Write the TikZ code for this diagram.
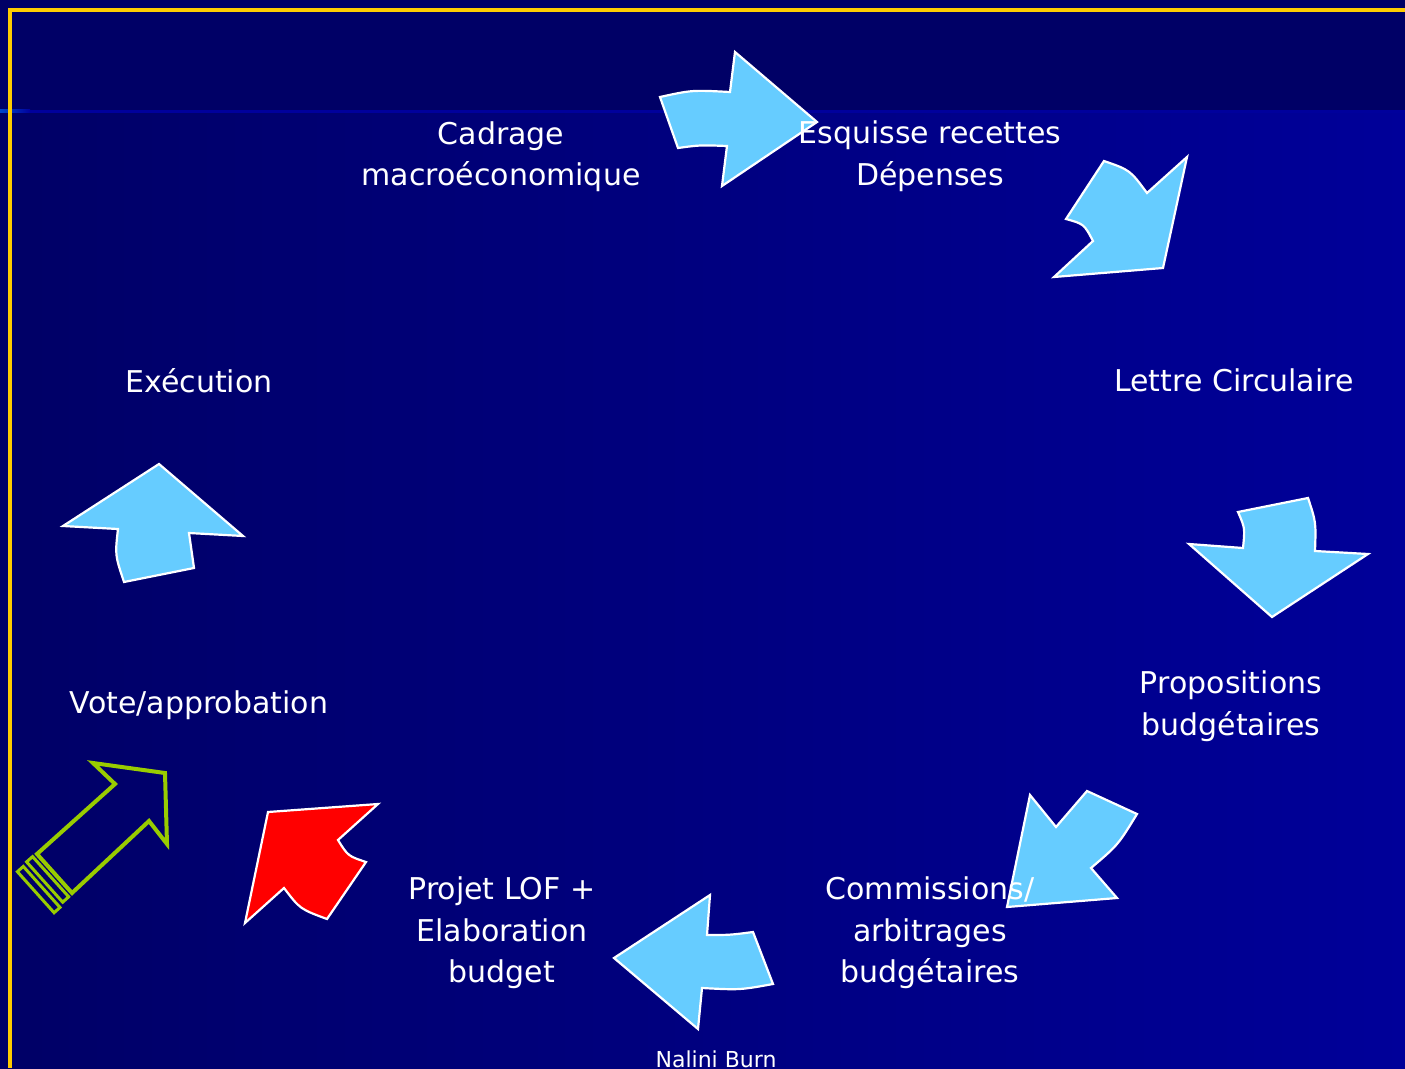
\documentclass[tikz,border=0pt]{standalone}
\usepackage{fontspec}
\setmainfont{DejaVu Sans}
\definecolor{bgdark}{HTML}{000066}
\definecolor{bgright}{HTML}{000099}
\definecolor{bandline}{HTML}{00009C}
\definecolor{bandglow}{HTML}{0046CC}
\definecolor{arrowblue}{HTML}{66CCFF}
\definecolor{gold}{HTML}{FFCC00}
\definecolor{lime}{HTML}{99CC00}
\begin{document}
\begin{tikzpicture}[x=1pt,y=-1pt,
  lbl/.style={text=white, align=center, inner sep=0pt, font=\fontsize{30}{41.5}\selectfont},
  blu/.style={fill=arrowblue, draw=white, line width=2.2pt, line join=miter},
  redarrow/.style={fill=red, draw=white, line width=2.2pt, line join=miter},
  outline/.style={draw=lime, line width=4pt, line join=miter},
  stripe/.style={draw=lime, line width=3pt, line join=miter},
  frame/.style={draw=gold, line width=4pt}]
\clip (0,0) rectangle (1405,1068);
% background
\fill[bgdark] (0,0) rectangle (1405,1068);
\shade[left color=bgdark, right color=bgright] (0,112) rectangle (1405,1068);
\draw[bandline, line width=3pt] (0,111) -- (1405,111);
\shade[left color=bandglow, right color=bandline] (0,109.5) rectangle (30,112.5);
% frame
\draw[frame] (8,10) -- (1405,10);
\draw[frame] (10,8) -- (10,1068);

% blue arrows
\path[blu] (660,97) .. controls (692,90) .. (730,92) -- (735,52) -- (817,122) -- (722,186) -- (727,146) .. controls (700,145) .. (678,148) -- cycle;
\path[blu] (1054,277) -- (1093,241) .. controls (1084,224) .. (1066,219) -- (1104,161) .. controls (1130,170) .. (1147,193) -- (1187,157) -- (1163,268) -- cycle;
\path[blu] (1238,512) -- (1308,498) .. controls (1316,522) .. (1315,551) -- (1368,554) -- (1272,617) -- (1189,544) -- (1243,548) .. controls (1245,528) .. (1238,512) -- cycle;
\path[blu] (1030,795) -- (1056,827) -- (1087,791) -- (1137,814) .. controls (1118,845) .. (1091,868) -- (1117,898) -- (1007,907) -- cycle;
\path[blu] (710,895) -- (707,935) .. controls (730,935) .. (753,932) -- (773,984) .. controls (740,990) .. (702,988) -- (698,1029) -- (614,958) -- cycle;
\path[blu] (63,526) -- (159,464) -- (243,536) -- (189,533) -- (194,568) -- (124,582) .. controls (115,555) .. (118,529) -- cycle;

% red arrow
\path[redarrow] (268,812) -- (378,804) -- (338,840) .. controls (348,856) .. (366,862) -- (327,919) .. controls (300,909) .. (284,888) -- (245,923) -- cycle;

% green outlined arrow
\path[outline] (93,763) -- (165,773) -- (167,844) -- (149,821) -- (72,893) -- (37,854) -- (115,784) -- cycle;
\path[stripe] (32.6,856.6) -- (26.6,861.9) -- (62.7,902.2) -- (68.7,896.8) -- cycle;
\path[stripe] (23.3,866.4) -- (17.4,871.7) -- (54.1,912.7) -- (60.0,907.4) -- cycle;

% labels
\node[lbl] (cadrage) at (501,156.5) {\strut Cadrage\\\strut macroéconomique};
\node[lbl] (esquisse) at (930,156) {\strut Esquisse recettes\\\strut Dépenses};
\node[lbl] (lettre) at (1234,383.5) {\strut Lettre Circulaire};
\node[lbl] (propositions) at (1231,706) {\strut Propositions\\\strut budgétaires};
\node[lbl] (commissions) at (930,933) {\strut Commissions/\\\strut arbitrages\\\strut budgétaires};
\node[lbl] (projet) at (502,933) {\strut Projet LOF +\\\strut Elaboration\\\strut budget};
\node[lbl] (vote) at (199,705.5) {\strut Vote/approbation};
\node[lbl] (execution) at (199,384.5) {\strut Exécution};
\node[text=white, inner sep=0pt, anchor=base, font=\fontsize{22}{26}\selectfont] (auteur) at (716,1067) {Nalini Burn};
\end{tikzpicture}
\end{document}
